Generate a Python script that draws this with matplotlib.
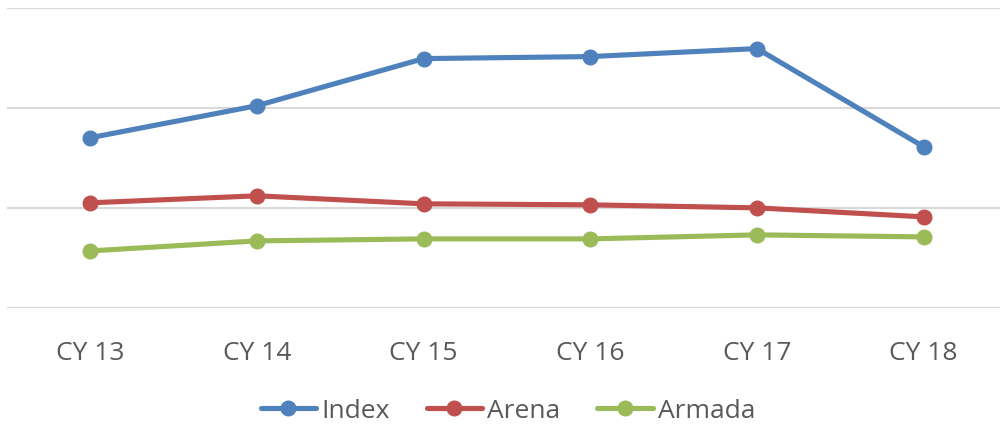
import numpy as np
import matplotlib.pyplot as plt

years = ["CY 13", "CY 14", "CY 15", "CY 16", "CY 17", "CY 18"]
index_vals = [1.70, 2.02, 2.49, 2.51, 2.59, 1.61]
arena_vals = [1.05, 1.12, 1.04, 1.03, 1.00, 0.91]
armada_vals = [0.57, 0.67, 0.69, 0.69, 0.73, 0.71]

series = [("Index", index_vals, "#4F81BD"),
          ("Arena", arena_vals, "#C0504D"),
          ("Armada", armada_vals, "#9BBB59")]

plt.rcParams['font.family'] = ['Open Sans', 'DejaVu Sans']

fig = plt.figure(figsize=(10, 4.25), dpi=100)
ax = fig.add_axes([0.007, 1 - 308 / 425, 1.0, 300.5 / 425])

x = np.arange(len(years))
for name, vals, col in series:
    ax.plot(x, vals, color=col, lw=3.7, marker='o', ms=10.5, label=name,
            solid_capstyle='round', zorder=3)

ax.set_xlim(-0.5, len(years) - 0.5)
ax.set_ylim(0, 3)
ax.set_yticks([0, 1, 2, 3])
ax.yaxis.grid(True, color='#D9D9D9', lw=1.5)
ax.set_axisbelow(True)
ax.tick_params(axis='y', left=False, labelleft=False)
ax.tick_params(axis='x', bottom=False, labelsize=19, labelcolor='#595959', pad=20)
ax.set_xticks(x)
ax.set_xticklabels(years)
for s in ax.spines.values():
    s.set_visible(False)

fig.legend(loc='center', bbox_to_anchor=(0.508, 1 - 411 / 425),
           ncol=3, frameon=False, fontsize=19, labelcolor='#595959',
           handlelength=2.1, handletextpad=0.2, columnspacing=1.4)

fig.savefig("out.png", dpi=100, facecolor='white')
